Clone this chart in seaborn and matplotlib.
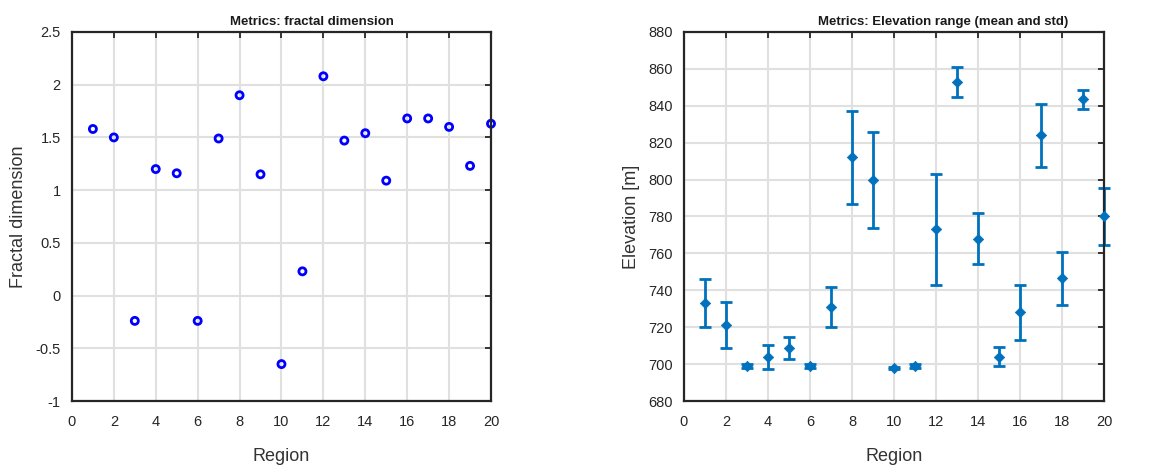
import numpy as np
import pandas as pd
import matplotlib
matplotlib.use("Agg")
import matplotlib.pyplot as plt
import seaborn as sns

regions = list(range(1, 21))
fractal_dim = [1.58, 1.50, -0.24, 1.20, 1.16, -0.24, 1.49, 1.90, 1.15, -0.65,
               0.23, 2.08, 1.47, 1.54, 1.09, 1.68, 1.68, 1.60, 1.23, 1.63]
elev_mean = [733, 721, 699, 704, 708.5, 699, 731, 812, 800, 698,
             699, 773, 853, 768, 704, 728, 824, 746.5, 843.5, 780]
elev_std = [13, 12.5, 1, 6.5, 6, 1, 11, 25, 26, 0.7,
            1, 30, 8, 14, 5, 15, 17, 14.5, 5, 15.5]

xticks = list(range(0, 21, 2))
yticks_left = [-1, -0.5, 0, 0.5, 1, 1.5, 2, 2.5]
yticks_right = list(range(680, 881, 20))

sns.set_theme(style="white")
plt.rcParams['font.family'] = ['Liberation Sans', 'DejaVu Sans']

df = pd.DataFrame({"Region": regions, "Fractal": fractal_dim,
                   "Mean": elev_mean, "Std": elev_std})

fig = plt.figure(figsize=(11.66, 4.74), dpi=100)
ax1 = fig.add_axes([0.0617, 0.154, 0.3594, 0.7785])
ax2 = fig.add_axes([0.5866, 0.154, 0.3602, 0.7785])

def style(ax, yticks, ylim, ylabel, title, tx):
    ax.set_xlim(0, 20)
    ax.set_ylim(*ylim)
    ax.set_xticks(xticks)
    ax.set_yticks(yticks)
    ax.set_yticklabels([("%g" % v) for v in yticks])
    ax.grid(True, color="#e0e0e0", linewidth=1.5)
    ax.set_axisbelow(True)
    for s in ax.spines.values():
        s.set_color("#262626")
        s.set_linewidth(1.6)
    ax.tick_params(direction="in", top=True, right=True, length=4, width=1.3,
                   color="#262626", labelsize=10.5, labelcolor="#262626")
    ax.tick_params(axis="x", pad=10)
    ax.tick_params(axis="y", pad=8)
    ax.set_xlabel("Region", fontsize=13, color="#333333", labelpad=14)
    ax.set_ylabel(ylabel, fontsize=13, color="#333333", labelpad=6)
    ax.set_title(title, fontsize=9.5, fontweight="bold", x=tx, pad=5, color="#1a1a1a")

sns.scatterplot(data=df, x="Region", y="Fractal", ax=ax1, s=26,
                facecolors="none", edgecolor="#0000ff", linewidth=2.0, clip_on=False)
style(ax1, yticks_left, (-1, 2.5), "Fractal dimension",
      "Metrics: fractal dimension", 0.573)

blue = "#0072BD"
eb = ax2.errorbar(df["Region"], df["Mean"], yerr=df["Std"], fmt="none",
                  ecolor=blue, elinewidth=2, capsize=4, capthick=2)
for art in eb.lines[1]:
    art.set_clip_on(False)
for art in eb.lines[2]:
    art.set_clip_on(False)
sns.scatterplot(data=df, x="Region", y="Mean", ax=ax2, marker="D", s=28,
                color=blue, edgecolor=blue, linewidth=0.5, zorder=3, clip_on=False)
style(ax2, yticks_right, (680, 880), "Elevation [m]",
      "Metrics: Elevation range (mean and std)", 0.617)

fig.savefig("out.png", dpi=100)
